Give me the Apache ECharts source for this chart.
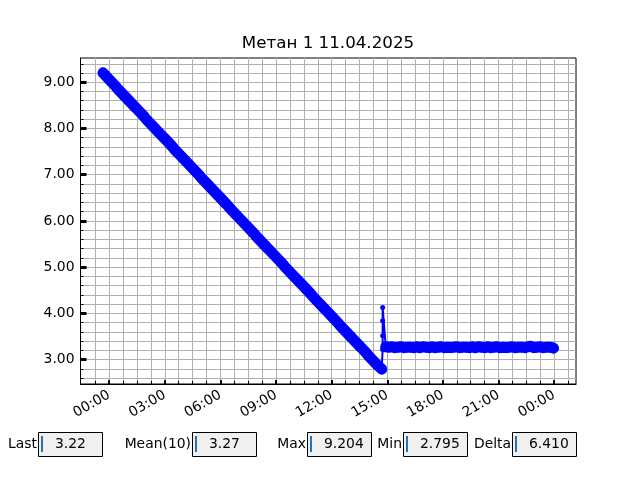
<!DOCTYPE html>
<html><head><meta charset="utf-8">
<script src="https://cdn.jsdelivr.net/npm/echarts@6/dist/echarts.min.js"></script>
<style>html,body{margin:0;padding:0;background:#fff}#c{width:640px;height:480px}</style>
</head><body><div id="c"></div>
<script>
const chartTitle = 'Метан 1 11.04.2025';

// decline: starts 10.04 23:40, rolls over to 11.04
const declineTimes = ['23:40','23:50',
 '00:00','00:10','00:20','00:30','00:40','00:50',
 '01:00','01:10','01:20','01:30','01:40','01:50',
 '02:00','02:10','02:20','02:30','02:40','02:50',
 '03:00','03:10','03:20','03:30','03:40','03:50',
 '04:00','04:10','04:20','04:30','04:40','04:50',
 '05:00','05:10','05:20','05:30','05:40','05:50',
 '06:00','06:10','06:20','06:30','06:40','06:50',
 '07:00','07:10','07:20','07:30','07:40','07:50',
 '08:00','08:10','08:20','08:30','08:40','08:50',
 '09:00','09:10','09:20','09:30','09:40','09:50',
 '10:00','10:10','10:20','10:30','10:40','10:50',
 '11:00','11:10','11:20','11:30','11:40','11:50',
 '12:00','12:10','12:20','12:30','12:40','12:50',
 '13:00','13:10','13:20','13:30','13:40','13:50',
 '14:00','14:10','14:20','14:30','14:40','14:42'];
const declineValues = [9.204,9.13,
 9.06,8.99,8.92,8.84,8.77,8.70,
 8.63,8.56,8.49,8.42,8.35,8.28,
 8.20,8.13,8.06,7.99,7.92,7.85,
 7.78,7.71,7.64,7.56,7.49,7.42,
 7.35,7.28,7.21,7.14,7.07,7.00,
 6.92,6.85,6.78,6.71,6.64,6.57,
 6.50,6.43,6.36,6.28,6.21,6.14,
 6.07,6.00,5.93,5.86,5.79,5.72,
 5.64,5.57,5.50,5.43,5.36,5.29,
 5.22,5.15,5.08,5.00,4.93,4.86,
 4.79,4.72,4.65,4.58,4.51,4.44,
 4.36,4.29,4.22,4.15,4.08,4.01,
 3.94,3.87,3.80,3.72,3.65,3.58,
 3.51,3.44,3.37,3.30,3.23,3.16,
 3.08,3.01,2.94,2.87,2.81,2.795];

const spikeTimes = ['14:45','14:45','14:45','14:45'];
const spikeValues = [3.22,3.52,3.84,4.13];

const flatTimes = ['14:55',
 '15:05','15:15','15:25','15:35','15:45','15:55',
 '16:05','16:15','16:25','16:35','16:45','16:55',
 '17:05','17:15','17:25','17:35','17:45','17:55',
 '18:05','18:15','18:25','18:35','18:45','18:55',
 '19:05','19:15','19:25','19:35','19:45','19:55',
 '20:05','20:15','20:25','20:35','20:45','20:55',
 '21:05','21:15','21:25','21:35','21:45','21:55',
 '22:05','22:15','22:25','22:35','22:45','22:55',
 '23:05','23:15','23:25','23:35','23:45','23:55','23:58'];
const flatValues = [3.28,3.27,3.28,3.26,3.27,3.28,3.26,3.27,3.27,3.26,
 3.28,3.26,3.28,3.27,3.26,3.28,3.26,3.27,3.28,3.26,
 3.27,3.26,3.27,3.28,3.26,3.27,3.27,3.26,3.28,3.26,
 3.28,3.27,3.26,3.28,3.26,3.27,3.28,3.26,3.27,3.26,
 3.27,3.28,3.26,3.27,3.27,3.26,3.28,3.29,3.26,3.27,
 3.28,3.26,3.27,3.27,3.26,3.25];

// axis ticks (x in hours from 11.04 00:00)
const xMajorTicks = [0,3,6,9,12,15,18,21,24];
const xMinorTicks = [-0.75,0,0.75,1.5,2.25,3,3.75,4.5,5.25,6,6.75,7.5,8.25,9,9.75,10.5,11.25,12,
 12.75,13.5,14.25,15,15.75,16.5,17.25,18,18.75,19.5,20.25,21,21.75,22.5,23.25,24,24.75];
const yMajorTicks = [3,4,5,6,7,8,9];
const yMinorTicks = [2.6,2.8,3,3.2,3.4,3.6,3.8,4,4.2,4.4,4.6,4.8,5,5.2,5.4,5.6,5.8,6,6.2,6.4,
 6.6,6.8,7,7.2,7.4,7.6,7.8,8,8.2,8.4,8.6,8.8,9,9.2,9.4];
const xRange = [-1.548, 25.18];
const yRange = [2.4745, 9.5245];

const statLabels = ['Last','Mean(10)','Max','Min','Delta'];
const statValues = ['3.22','3.27','9.204','2.795','6.410'];

function toHours(list, dayOffset) {
  let day = dayOffset, prev = -1;
  return list.map(t => {
    const p = t.split(':').map(Number);
    const v = p[0] + p[1] / 60;
    if (v < prev) day += 24;
    prev = v;
    return day + v;
  });
}
const dX = toHours(declineTimes, -24);
const sX = toHours(spikeTimes, 0);
const fX = toHours(flatTimes, 0);
const declineData = dX.map((x, i) => [x, declineValues[i]]);
const flatData = fX.map((x, i) => [x, flatValues[i]]);
const spikeData = [declineData[declineData.length - 1]]
  .concat(sX.map((x, i) => [x, spikeValues[i]]))
  .concat([flatData[0]]);

const FONT = 'DejaVu Sans';
const BLUE = '#0000ff';
const pad = n => (n < 10 ? '0' : '') + n;

const baseLine = {
  type: 'line', symbol: 'circle', showAllSymbol: true, silent: true, animation: false,
  itemStyle: { color: BLUE, borderWidth: 0 },
  emphasis: { disabled: true }
};
const thick = { color: BLUE, width: 11, cap: 'round', join: 'round' };

// stat boxes
const boxLeft = [38, 192, 307, 403, 512];
const boxTop = 432, boxW = 64, boxH = 24;
const graphics = [];
statLabels.forEach((lab, i) => {
  const x = boxLeft[i];
  graphics.push({ type: 'text', x: x - 1, y: boxTop + boxH / 2, style: { text: lab, align: 'right', verticalAlign: 'middle', font: '13.9px "DejaVu Sans"', fill: '#000' } });
  graphics.push({ type: 'rect', shape: { x: x + 0.5, y: boxTop + 0.5, width: boxW, height: boxH }, style: { fill: '#f0f0f0', stroke: '#000', lineWidth: 1 } });
  graphics.push({ type: 'rect', shape: { x: x + 3, y: boxTop + 4, width: 2, height: 16 }, style: { fill: '#1f77b4' } });
  graphics.push({ type: 'text', x: x + 17, y: boxTop + boxH / 2, style: { text: statValues[i], align: 'left', verticalAlign: 'middle', font: '13.9px "DejaVu Sans"', fill: '#000' } });
});

const chart = echarts.init(document.getElementById('c'), null, { renderer: 'canvas' });
chart.setOption({
  backgroundColor: '#fff',
  animation: false,
  title: { text: chartTitle, left: 328, top: 35, textAlign: 'center', padding: 0,
    textStyle: { fontFamily: FONT, fontSize: 16.7, fontWeight: 'normal', color: '#000' } },
  grid: { left: 80.5, right: 64, top: 58, bottom: 96, show: true, borderColor: '#000', borderWidth: 1, backgroundColor: 'transparent' },
  xAxis: [
    { type: 'value', min: xRange[0], max: xRange[1], position: 'bottom',
      axisLine: { show: true, onZero: false, lineStyle: { color: '#000', width: 1 } },
      axisTick: { show: true, inside: true, length: 3, customValues: xMinorTicks, lineStyle: { color: '#000', width: 1 } },
      axisLabel: { show: false },
      splitLine: { show: true, lineStyle: { color: '#b0b0b0', width: 1 } } },
    { type: 'value', min: xRange[0], max: xRange[1], position: 'bottom',
      axisLine: { show: false, onZero: false },
      axisTick: { show: true, inside: true, length: 4, customValues: xMajorTicks, lineStyle: { color: '#000', width: 2 } },
      axisLabel: { show: true, customValues: xMajorTicks, rotate: 30, margin: 10, fontFamily: FONT, fontSize: 13.9, color: '#000',
        formatter: v => pad(Math.round(v) % 24) + ':00' },
      splitLine: { show: false } }
  ],
  yAxis: [
    { type: 'value', min: yRange[0], max: yRange[1], position: 'left',
      axisLine: { show: true, onZero: false, lineStyle: { color: '#000', width: 1 } },
      axisTick: { show: true, inside: true, length: 3, customValues: yMinorTicks, lineStyle: { color: '#000', width: 1 } },
      axisLabel: { show: false },
      splitLine: { show: true, lineStyle: { color: '#b0b0b0', width: 1 } } },
    { type: 'value', min: yRange[0], max: yRange[1], position: 'left',
      axisLine: { show: false, onZero: false },
      axisTick: { show: true, inside: true, length: 6, customValues: yMajorTicks, lineStyle: { color: '#000', width: 3 } },
      axisLabel: { show: true, customValues: yMajorTicks, margin: 6, fontFamily: FONT, fontSize: 13.9, color: '#000',
        formatter: v => v.toFixed(2) },
      splitLine: { show: false } }
  ],
  series: [
    Object.assign({}, baseLine, { data: declineData, symbolSize: 9, lineStyle: thick, z: 3 }),
    Object.assign({}, baseLine, { data: spikeData, z: 4, lineStyle: { color: BLUE, width: 2 },
      symbolSize: (v, p) => (p.dataIndex === 0 || p.dataIndex === spikeData.length - 1) ? 0 : 5 }),
    Object.assign({}, baseLine, { data: flatData, symbolSize: 9, lineStyle: thick, z: 3 })
  ],
  graphic: graphics
});
</script>
</body></html>
